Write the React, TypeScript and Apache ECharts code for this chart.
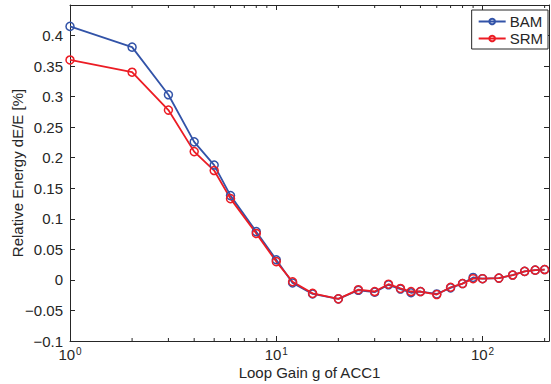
import React, { useEffect, useRef } from "react";
import * as echarts from "echarts";

const gains = [1, 2, 3, 4, 5, 6, 8, 10, 12, 15, 20, 25, 30, 35, 40, 45, 50, 60, 70, 80, 90, 100, 120, 140, 160, 180, 200];
const bam = [0.415, 0.381, 0.303, 0.226, 0.188, 0.138, 0.079, 0.033, -0.005, -0.023, -0.031, -0.017, -0.02, -0.008, -0.015, -0.021, -0.019, -0.023, -0.013, -0.006, 0.004, 0.002, 0.003, 0.008, 0.014, 0.016, 0.017];
const srm = [0.36, 0.34, 0.278, 0.21, 0.179, 0.133, 0.076, 0.03, -0.003, -0.022, -0.031, -0.016, -0.019, -0.007, -0.014, -0.019, -0.019, -0.024, -0.012, -0.006, 0.002, 0.002, 0.003, 0.008, 0.014, 0.016, 0.017];
const minorTicks = [2, 3, 4, 5, 6, 7, 8, 9, 20, 30, 40, 50, 60, 70, 80, 90, 200];
const seriesNames = ["BAM", "SRM"];

const X_MIN = 1;
const X_MAX = 210;
const Y_MIN = -0.1;
const Y_MAX = 0.45;
const Y_STEP = 0.05;

const BLUE = "#3253a8";
const RED = "#ec1c24";
const INK = "#262626";
const FONT = "Liberation Sans, Arial, Helvetica, sans-serif";

export default function App() {
  const ref = useRef<HTMLDivElement>(null);
  useEffect(() => {
    if (!ref.current) return;
    document.body.style.margin = "0";
    const chart = echarts.init(ref.current, undefined, { renderer: "svg" });
    const mkSeries = (name: string, vals: number[], color: string) => ({
      name,
      type: "line",
      data: gains.map((g, i) => [g, vals[i]]),
      color,
      symbol: "circle",
      symbolSize: 8,
      itemStyle: { color: "rgba(255,255,255,0)", borderColor: color, borderWidth: 1.5 },
      lineStyle: { color, width: 1.8 },
      xAxisIndex: 0,
      yAxisIndex: 0,
    });
    const tickLine = { show: true, inside: true, length: 5, lineStyle: { color: INK, width: 1 } };
    const axisLine = { show: true, onZero: false, lineStyle: { color: INK, width: 1 } };
    chart.setOption({
      animation: false,
      backgroundColor: "#fff",
      textStyle: { fontFamily: FONT },
      grid: { left: 70, right: 2, top: 5, bottom: 43, containLabel: false, outerBoundsMode: "none" },
      legend: {
        data: seriesNames,
        orient: "vertical",
        right: 3,
        top: 10,
        padding: [4, 5, 3, 6],
        itemGap: 2,
        itemWidth: 27,
        itemHeight: 7,
        backgroundColor: "#fff",
        borderColor: INK,
        borderWidth: 1,
        borderRadius: 0,
        textStyle: { fontSize: 15, color: INK, fontFamily: FONT, padding: [0, 0, 0, -1] },
      },
      xAxis: [
        {
          type: "log",
          min: X_MIN,
          max: X_MAX,
          position: "bottom",
          name: "Loop Gain g of ACC1",
          nameLocation: "middle",
          nameGap: 24,
          nameMoveOverlap: false,
          nameTextStyle: { fontSize: 15, color: INK, fontFamily: FONT },
          axisLine,
          axisTick: tickLine,
          splitLine: { show: false },
          axisLabel: {
            color: INK,
            margin: 5,
            formatter: (v: number) => {
              const e = Math.round(Math.log10(v));
              if (Math.abs(Math.pow(10, e) - v) > 1e-6) return "";
              return "{b|10}{s|" + e + "}";
            },
            rich: {
              b: { fontSize: 15, color: INK, fontFamily: FONT, verticalAlign: "bottom", lineHeight: 16 },
              s: { fontSize: 10, color: INK, fontFamily: FONT, verticalAlign: "top", lineHeight: 10, padding: [0, 0, 0, 1] },
            },
          },
        },
        {
          type: "log",
          min: X_MIN,
          max: X_MAX,
          position: "top",
          axisLine,
          axisTick: tickLine,
          axisLabel: { show: false },
          splitLine: { show: false },
        },
      ],
      yAxis: [
        {
          type: "value",
          min: Y_MIN,
          max: Y_MAX,
          interval: Y_STEP,
          position: "left",
          name: "Relative Energy dE/E [%]",
          nameLocation: "middle",
          nameGap: 45,
          nameMoveOverlap: false,
          nameTextStyle: { fontSize: 15, color: INK, fontFamily: FONT },
          axisLine,
          axisTick: tickLine,
          splitLine: { show: false },
          axisLabel: {
            color: INK,
            fontSize: 15,
            margin: 7,
            formatter: (v: number) => {
              if (Math.abs(v - Y_MAX) < 1e-9) return "";
              const s = String(Number(v.toFixed(2)));
              return s.replace("-", "\u2212");
            },
          },
        },
        {
          type: "value",
          min: Y_MIN,
          max: Y_MAX,
          interval: Y_STEP,
          position: "right",
          axisLine,
          axisTick: tickLine,
          axisLabel: { show: false },
          splitLine: { show: false },
        },
      ],
      series: [
        mkSeries("BAM", bam, BLUE),
        mkSeries("SRM", srm, RED),
        {
          type: "custom",
          name: "minor",
          xAxisIndex: 0,
          yAxisIndex: 0,
          silent: true,
          clip: false,
          z: 10,
          encode: { x: 0, y: 1 },
          data: minorTicks.map((v) => [v, Y_MIN]),
          renderItem: (_p: any, api: any) => {
            const v = api.value(0);
            const b = api.coord([v, Y_MIN]);
            const t = api.coord([v, Y_MAX]);
            const st = { stroke: INK, lineWidth: 1 };
            return {
              type: "group",
              children: [
                { type: "line", shape: { x1: b[0], y1: b[1], x2: b[0], y2: b[1] - 3 }, style: st },
                { type: "line", shape: { x1: t[0], y1: t[1], x2: t[0], y2: t[1] + 3 }, style: st },
              ],
            };
          },
        },
      ],
    });
    return () => chart.dispose();
  }, []);
  return (
    <div style={{ position: "fixed", left: 0, top: 0, width: 551, height: 384, background: "#fff" }}>
      <div ref={ref} style={{ width: 551, height: 384 }} />
    </div>
  );
}
